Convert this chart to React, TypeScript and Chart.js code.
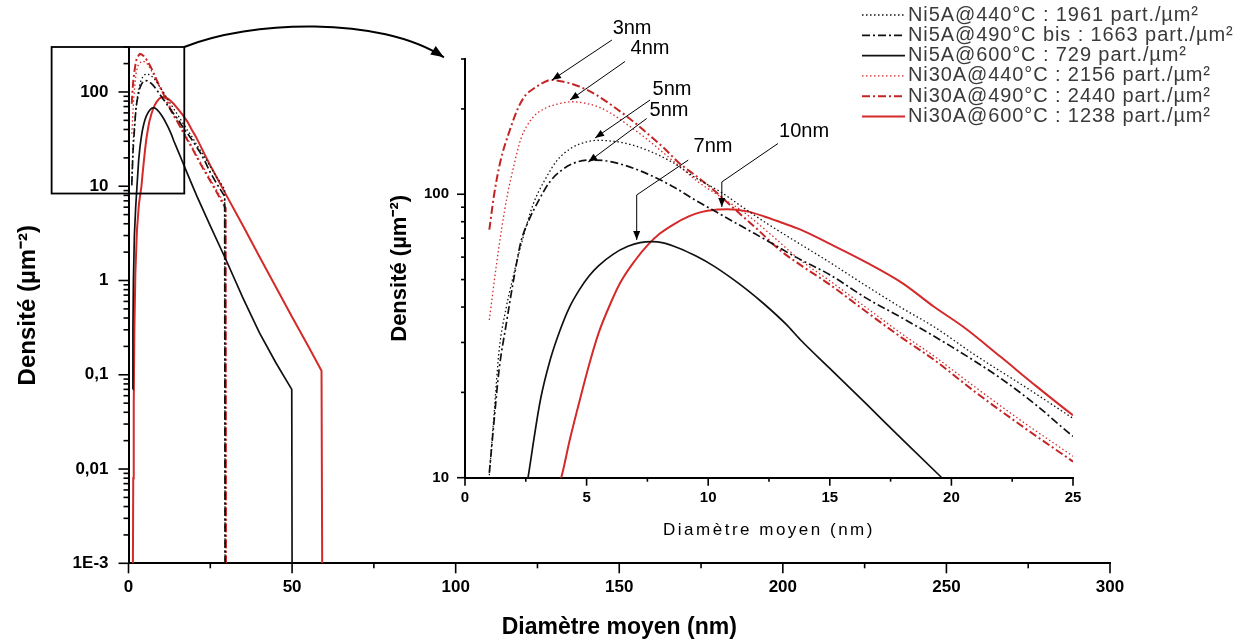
import React, { useEffect, useRef } from 'react';
import { Chart, registerables, LinearScale } from 'chart.js';

Chart.register(...registerables);

class SpacedLinearScale extends LinearScale {
  static id = 'spacedLinear';
  static defaults = {};
  drawTitle() {
    const ctx = (this as any).ctx;
    ctx.save();
    ctx.letterSpacing = ((this as any).options.title.letterSpacing as string) || '0px';
    // @ts-ignore
    super.drawTitle();
    ctx.restore();
  }
}
Chart.register(SpacedLinearScale as any);

Chart.defaults.font.family = '"Liberation Sans", Arial, sans-serif';
Chart.defaults.color = '#000';

// ---------------- data ----------------
const seriesLabels = [
  'Ni5A@440°C : 1961 part./µm²',
  'Ni5A@490°C bis : 1663 part./µm²',
  'Ni5A@600°C : 729 part./µm²',
  'Ni30A@440°C : 2156 part./µm²',
  'Ni30A@490°C : 2440 part./µm²',
  'Ni30A@600°C : 1238 part./µm²',
];

const ni5a440X = [1.0, 1.2, 1.4, 1.7, 2.0, 2.3, 2.8, 3.3, 3.8, 4.4, 5.0, 5.5, 6.0, 6.5, 7.5, 8.5, 9.5, 10.5, 11.5, 12.5, 13.5, 15, 16.5, 18, 19.3, 21, 23, 25, 27, 29.4, 29.5];
const ni5a440Y = [10.2, 17, 28, 40, 52, 66, 92, 113, 132, 146, 153, 155, 154, 152, 143, 130, 114, 102, 89, 78, 69, 57.5, 47.5, 39.5, 34, 27, 21, 16.2, 12.5, 9.3, 0.001];

const ni5a490X = [1.0, 1.2, 1.4, 1.7, 2.0, 2.3, 2.6, 3.0, 3.5, 4.0, 4.5, 5.1, 5.7, 6.5, 7.5, 8.5, 9.5, 10.5, 11.5, 12.5, 13.6, 15, 16.5, 18, 20, 22, 23.5, 25, 27, 29.4, 29.5];
const ni5a490Y = [10.4, 16, 24, 35, 50, 68, 80, 94, 111, 122, 129, 132, 131.5, 127, 118, 107, 95, 85, 76, 68, 60, 52, 43, 36.5, 29, 22.5, 18, 14, 10.6, 7.8, 0.001];

const ni5a600X = [1.3, 1.35, 1.5, 1.8, 2.2, 2.6, 3.1, 3.5, 3.9, 4.3, 4.7, 5.1, 5.5, 6.1, 6.7, 7.2, 7.7, 8.1, 8.8, 9.5, 10.2, 10.9, 11.6, 12.3, 13.2, 13.8, 15, 16.5, 18, 19.5, 21, 25, 30, 35, 40, 45, 49.9, 50];
const ni5a600Y = [0.07, 0.3, 1, 3, 6, 10.1, 18.8, 26, 33, 40, 46, 51.5, 56, 61.5, 65.5, 67.5, 68, 67.5, 64.5, 60.5, 56, 51, 46, 41, 34.8, 30.6, 24.3, 18.2, 13.6, 10.2, 7.7, 3.8, 1.6, 0.65, 0.28, 0.135, 0.07, 0.001];

const ni30a440X = [1.0, 1.3, 1.5, 1.75, 2.0, 2.3, 2.8, 3.3, 3.8, 4.4, 5.0, 5.5, 6.0, 6.8, 7.5, 8.2, 9.0, 9.5, 10.5, 11.5, 12.5, 13.8, 15, 16.5, 18, 19.3, 21, 23, 25, 27, 29.7, 29.8];
const ni30a440Y = [36, 57, 75, 100, 125, 157, 187, 201, 208, 212, 209, 203, 193, 173, 156, 139, 122, 112, 98, 86, 73, 58.5, 49.5, 39.8, 32, 26.8, 20.8, 15.6, 11.9, 9.0, 6.2, 0.001];

const ni30a490X = [1.0, 1.2, 1.45, 1.85, 2.2, 2.5, 2.8, 3.2, 3.5, 4.0, 4.7, 5.4, 6.1, 6.8, 7.5, 8.2, 8.8, 9.5, 10.2, 11, 12, 13, 13.7, 15, 16.5, 18, 19.3, 21, 23, 25, 27, 29.7, 29.8];
const ni30a490Y = [75, 100, 130, 169, 203, 224, 235, 247, 253, 250, 240, 224, 204, 184, 164, 145, 129, 116, 104, 90, 75.5, 63, 57, 48, 38.5, 31, 26, 20, 15, 11.4, 8.6, 5.8, 0.001];

const ni30a600X = [1.35, 1.45, 1.6, 1.8, 2.1, 2.6, 3.2, 3.97, 4.3, 4.7, 5.1, 5.5, 6.0, 6.4, 7.0, 7.5, 8.0, 8.6, 9.2, 9.7, 10.3, 10.8, 11.6, 12.3, 13.0, 13.8, 14.9, 16.5, 18, 19.3, 20.5, 22, 23.5, 25, 30, 35, 40, 45, 50, 55, 59, 59.2];
const ni30a600Y = [0.001, 0.008, 0.05, 0.3, 1.2, 3.5, 6.5, 10.1, 13.5, 18.5, 25, 32.5, 41.5, 49, 58.5, 66, 72.5, 78.5, 83.5, 86.5, 88.2, 88.5, 87, 83.5, 79.5, 75, 67.5, 57.5, 48.5, 40, 34, 26.8, 21, 16.6, 7.9, 3.8, 1.8, 0.86, 0.41, 0.2, 0.11, 0.001];

const seriesX = [ni5a440X, ni5a490X, ni5a600X, ni30a440X, ni30a490X, ni30a600X];
const seriesY = [ni5a440Y, ni5a490Y, ni5a600Y, ni30a440Y, ni30a490Y, ni30a600Y];

// ticks
const mainXMajor = [0, 50, 100, 150, 200, 250, 300];
const mainXMinor = [25, 75, 125, 175, 225, 275];
const mainYMajor = [0.001, 0.01, 0.1, 1, 10, 100];
const mainYLabels = ['1E-3', '0,01', '0,1', '1', '10', '100'];
const insetXMajor = [0, 5, 10, 15, 20, 25];
const insetXMinor = [2.5, 7.5, 12.5, 17.5, 22.5];
const insetYMajor = [10, 100];
const insetYLabels = ['10', '100'];
const insetYMinor = [20, 30, 40, 50, 60, 70, 80, 90, 200, 300];

function logMinors(majors: number[], max: number) {
  const out: number[] = [];
  for (const m of majors) for (let s = 2; s <= 9; s++) { const v = +(m * s).toPrecision(6); if (v <= max) out.push(v); }
  return out;
}
const mainYMinor = logMinors(mainYMajor, 300);

// annotations (data coordinates of the inset: diameter nm, density)
const peakNotes = [
  { text: '3nm', at: [6.87, 383], path: [[6.04, 350], [3.58, 253]] },
  { text: '4nm', at: [7.61, 326], path: [[6.58, 294], [4.32, 215]] },
  { text: '5nm', at: [8.51, 235], path: [[7.61, 215], [5.35, 158]] },
  { text: '5nm', at: [8.39, 197], path: [[7.47, 185], [5.07, 130]] },
  { text: '7nm', at: [10.2, 147], path: [[9.18, 132], [7.06, 99.4], [7.06, 69]] },
  { text: '10nm', at: [13.94, 167], path: [[12.87, 151], [10.56, 110.5], [10.56, 90.2]] },
];
// zoom box & curved arrow in main chart data coordinates
const zoomBox = [[-23.5, 300], [17.05, 8.37]];
const zoomArrow = [[17.05, 300], [37.1, 575], [76.8, 650], [96.4, 233]];

// ---------------- styles ----------------
const seriesStyles = [
  { color: '#111111', width: 1.3, dash: [1.5, 2.5] },
  { color: '#111111', width: 1.7, dash: [8, 3, 2, 3] },
  { color: '#111111', width: 1.7, dash: [] as number[] },
  { color: '#d42a2a', width: 1.3, dash: [1.5, 2.5] },
  { color: '#c42424', width: 2, dash: [8, 3, 2, 3] },
  { color: '#d42a2a', width: 2, dash: [] as number[] },
];

function makeDatasets(smooth: boolean) {
  return seriesLabels.map((label, i) => ({
    label,
    data: seriesX[i].map((x, j) => ({ x, y: seriesY[i][j] })),
    borderColor: seriesStyles[i].color,
    borderWidth: seriesStyles[i].width,
    borderDash: seriesStyles[i].dash,
    pointRadius: 0,
    fill: false,
    tension: 0,
    cubicInterpolationMode: smooth ? ('monotone' as const) : ('default' as const),
  }));
}

function ticksFrom(majors: number[], minors: number[]) {
  return (scale: any) => {
    const t = [
      ...majors.map((v) => ({ value: v, major: true })),
      ...minors.map((v) => ({ value: v, major: false })),
    ].sort((a, b) => a.value - b.value);
    scale.ticks = t;
  };
}
function labelFrom(majors: number[], labels: string[]) {
  return (value: any) => {
    const i = majors.findIndex((m) => Math.abs(m - value) < m * 1e-6 + 1e-12);
    return i >= 0 ? labels[i] : '';
  };
}

function tickMarks(major: number, minor: number, width: number) {
  return {
    id: 'tickMarks',
    afterDraw(chart: any) {
      const { ctx, chartArea } = chart;
      const xs = chart.scales.x, ys = chart.scales.y;
      ctx.save();
      ctx.strokeStyle = '#000';
      ctx.lineWidth = width;
      for (const t of xs.ticks) {
        const p = xs.getPixelForValue(t.value);
        const l = t.major ? major : minor;
        ctx.beginPath(); ctx.moveTo(p, chartArea.bottom); ctx.lineTo(p, chartArea.bottom + l); ctx.stroke();
      }
      for (const t of ys.ticks) {
        const p = ys.getPixelForValue(t.value);
        const l = t.major ? major : minor;
        ctx.beginPath(); ctx.moveTo(chartArea.left - l, p); ctx.lineTo(chartArea.left, p); ctx.stroke();
      }
      ctx.restore();
    },
  };
}

function arrowHead(ctx: any, x1: number, y1: number, x2: number, y2: number, len: number, w: number) {
  const a = Math.atan2(y2 - y1, x2 - x1);
  const bx = x2 - len * Math.cos(a), by = y2 - len * Math.sin(a);
  ctx.beginPath();
  ctx.moveTo(x2, y2);
  ctx.lineTo(bx + w * Math.sin(a), by - w * Math.cos(a));
  ctx.lineTo(bx - w * Math.sin(a), by + w * Math.cos(a));
  ctx.closePath();
  ctx.fill();
}

const mainNotesPlugin = {
  id: 'mainNotes',
  afterDraw(chart: any) {
    const { ctx } = chart;
    const xs = chart.scales.x, ys = chart.scales.y;
    const P = (p: number[]) => [xs.getPixelForValue(p[0]), ys.getPixelForValue(p[1])];
    ctx.save();
    ctx.strokeStyle = '#000';
    ctx.fillStyle = '#000';
    ctx.lineWidth = 1.8;
    const [a, b] = zoomBox.map(P);
    ctx.strokeRect(a[0], a[1], b[0] - a[0], b[1] - a[1]);
    const pts = zoomArrow.map(P);
    ctx.lineWidth = 2;
    ctx.beginPath();
    ctx.moveTo(pts[0][0], pts[0][1]);
    ctx.bezierCurveTo(pts[1][0], pts[1][1], pts[2][0], pts[2][1], pts[3][0], pts[3][1]);
    ctx.stroke();
    arrowHead(ctx, pts[2][0], pts[2][1], pts[3][0], pts[3][1], 13, 5);
    ctx.restore();
  },
};

const insetNotesPlugin = {
  id: 'insetNotes',
  afterDraw(chart: any) {
    const { ctx } = chart;
    const xs = chart.scales.x, ys = chart.scales.y;
    const P = (p: number[]) => [xs.getPixelForValue(p[0]), ys.getPixelForValue(p[1])];
    ctx.save();
    ctx.strokeStyle = '#000';
    ctx.fillStyle = '#000';
    ctx.lineWidth = 1;
    for (const n of peakNotes) {
      const pts = n.path.map(P);
      ctx.beginPath();
      ctx.moveTo(pts[0][0], pts[0][1]);
      for (let i = 1; i < pts.length; i++) ctx.lineTo(pts[i][0], pts[i][1]);
      ctx.stroke();
      const l = pts.length;
      arrowHead(ctx, pts[l - 2][0], pts[l - 2][1], pts[l - 1][0], pts[l - 1][1], 9, 3.5);
      const t = P(n.at);
      ctx.font = '20px "Liberation Sans", Arial, sans-serif';
      ctx.textAlign = 'center';
      ctx.textBaseline = 'middle';
      ctx.fillText(n.text, t[0], t[1]);
    }
    // legend
    const lx0 = 862, lx1 = 905, tx = 908, ly0 = 15, ldy = 20.3;
    chart.data.datasets.forEach((ds: any, i: number) => {
      const y = ly0 + i * ldy;
      ctx.strokeStyle = ds.borderColor;
      ctx.lineWidth = ds.borderWidth;
      ctx.setLineDash(ds.borderDash || []);
      ctx.beginPath(); ctx.moveTo(lx0, y); ctx.lineTo(lx1, y); ctx.stroke();
      ctx.setLineDash([]);
      ctx.fillStyle = '#3a3a3a';
      ctx.font = '20px "Liberation Sans", Arial, sans-serif';
      ctx.textAlign = 'left';
      ctx.textBaseline = 'middle';
      ctx.letterSpacing = '0.9px';
      ctx.fillText(ds.label, tx, y);
      ctx.letterSpacing = '0px';
    });
    ctx.restore();
  },
};

const axisBorder = { display: true, color: '#000', width: 2 };

export default function App() {
  const mainRef = useRef<HTMLCanvasElement>(null);
  const insetRef = useRef<HTMLCanvasElement>(null);

  useEffect(() => {
    const main = new Chart(mainRef.current as HTMLCanvasElement, {
      type: 'line',
      data: { datasets: makeDatasets(false) as any },
      options: {
        responsive: false,
        animation: false,
        events: [],
        layout: { padding: { left: 0, top: 47, right: 132, bottom: 0 } },
        plugins: { legend: { display: false }, tooltip: { enabled: false } },
        scales: {
          x: {
            type: 'linear', min: 0, max: 300,
            afterBuildTicks: ticksFrom(mainXMajor, mainXMinor),
            afterFit: (s: any) => { s.height = 77.7; },
            ticks: {
              autoSkip: false, maxRotation: 0, padding: 4,
              font: { size: 17, weight: 'bold' },
              callback: labelFrom(mainXMajor, mainXMajor.map(String)),
            },
            grid: { drawOnChartArea: false, tickLength: 10, tickColor: 'rgba(0,0,0,0)' },
            border: axisBorder,
            title: { display: true, text: 'Diamètre moyen (nm)', font: { size: 23, weight: 'bold' }, padding: { top: 0, bottom: 0 } },
          },
          y: {
            type: 'logarithmic', min: 0.001, max: 300, position: 'left',
            afterBuildTicks: ticksFrom(mainYMajor, mainYMinor),
            afterFit: (s: any) => { s.width = 128.5; },
            ticks: {
              autoSkip: false, padding: 10,
              font: { size: 17, weight: 'bold' },
              callback: labelFrom(mainYMajor, mainYLabels),
            },
            grid: { drawOnChartArea: false, tickLength: 10, tickColor: 'rgba(0,0,0,0)' },
            border: axisBorder,
            title: { display: true, text: 'Densité (µm⁻²)', font: { size: 24, weight: 'bold' }, padding: { top: 13.6, bottom: 0 } },
          },
        },
      } as any,
      plugins: [tickMarks(10, 5, 1.6), mainNotesPlugin],
    });

    const inset = new Chart(insetRef.current as HTMLCanvasElement, {
      type: 'line',
      data: { datasets: makeDatasets(true) as any },
      options: {
        responsive: false,
        animation: false,
        events: [],
        layout: { padding: { left: 380, top: 59, right: 169, bottom: 100 } },
        plugins: { legend: { display: false }, tooltip: { enabled: false } },
        scales: {
          x: {
            type: 'spacedLinear', min: 0, max: 25,
            afterBuildTicks: ticksFrom(insetXMajor, insetXMinor),
            afterFit: (s: any) => { s.height = 63.3; },
            ticks: {
              autoSkip: false, maxRotation: 0, padding: 3,
              font: { size: 15, weight: 'bold' },
              callback: labelFrom(insetXMajor, insetXMajor.map(String)),
            },
            grid: { drawOnChartArea: false, tickLength: 8, tickColor: 'rgba(0,0,0,0)' },
            border: axisBorder,
            title: { display: true, text: 'Diamètre moyen (nm)', letterSpacing: '2.5px', font: { size: 17 }, padding: { top: 0, bottom: 0.8 } },
          },
          y: {
            type: 'logarithmic', min: 10, max: 300, position: 'left',
            afterBuildTicks: ticksFrom(insetYMajor, insetYMinor),
            afterFit: (s: any) => { s.width = 85; },
            ticks: {
              autoSkip: false, padding: 8,
              font: { size: 15, weight: 'bold' },
              callback: labelFrom(insetYMajor, insetYLabels),
            },
            grid: { drawOnChartArea: false, tickLength: 8, tickColor: 'rgba(0,0,0,0)' },
            border: axisBorder,
            title: { display: true, text: 'Densité (µm⁻²)', font: { size: 22, weight: 'bold' }, padding: { top: 6.8, bottom: 0 } },
          },
        },
      } as any,
      plugins: [tickMarks(8, 4, 1.6), insetNotesPlugin],
    });

    return () => { main.destroy(); inset.destroy(); };
  }, []);

  const abs: React.CSSProperties = { position: 'absolute', left: 0, top: 0, width: 1242, height: 641 };
  return (
    <div style={{ ...abs, background: '#fff' }}>
      <canvas ref={mainRef} width={1242} height={641} style={abs} />
      <canvas ref={insetRef} width={1242} height={641} style={abs} />
    </div>
  );
}
